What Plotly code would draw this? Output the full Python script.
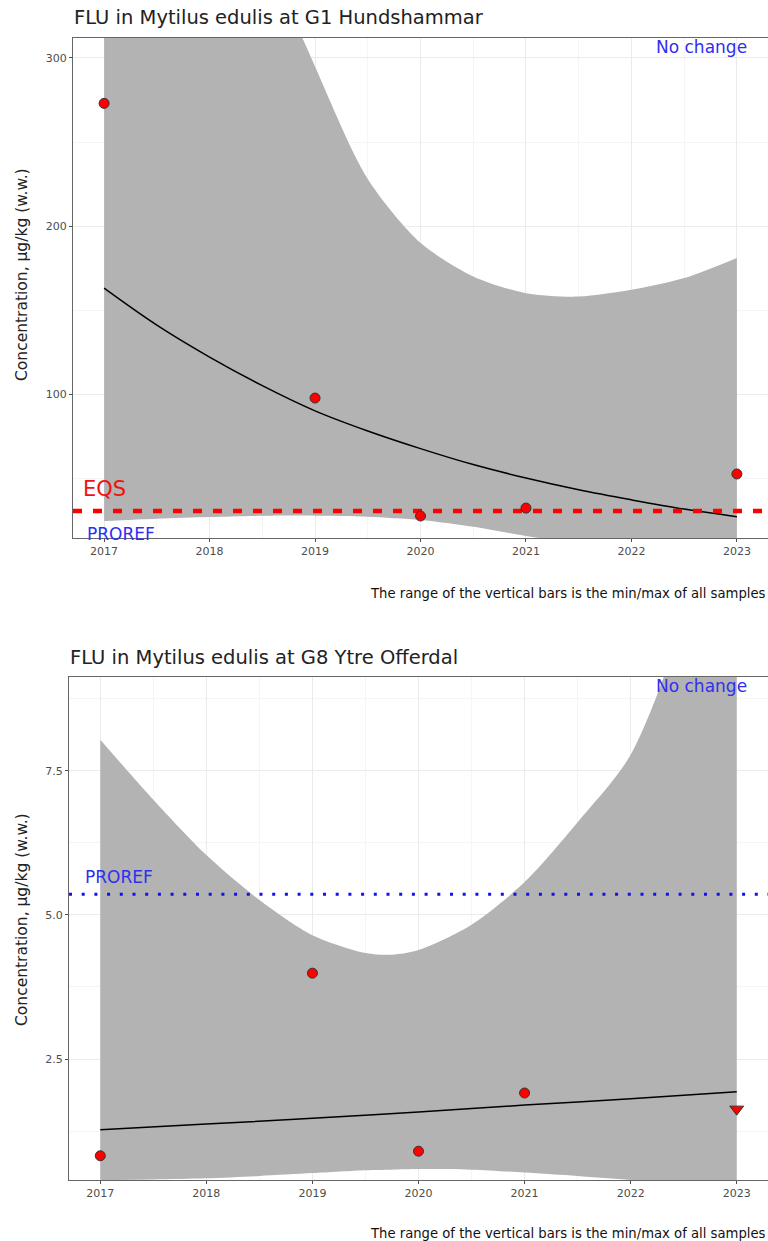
import plotly.graph_objects as go

W, H = 768, 1241

# ---------------- data: panel 1 (G1 Hundshammar) ----------------
p1_years = [2017, 2019, 2020, 2021, 2023]
p1_values = [273, 97.6, 27.4, 32.1, 52.4]
p1_trend_x = [2017, 2017.5, 2018, 2018.5, 2019, 2019.5, 2020, 2020.5, 2021, 2021.5, 2022, 2022.5, 2023]
p1_trend_y = [163, 141, 122, 105, 90, 78, 67.5, 58, 50, 43, 37, 31.5, 27]
p1_upper = [900, 650, 480, 370, 295, 228, 190, 170, 160, 158, 162, 169, 181]
p1_lower = [24.4, 25.8, 26.8, 27.5, 27.6, 27.0, 25.0, 21.0, 15.5, 11.0, 8.0, 5.5, 4.0]
p1_eqs = 30.4
p1_yrange = [14.3, 311.9]
p1_yticks = [100, 200, 300]
p1_title = "FLU in Mytilus edulis at G1 Hundshammar"

# ---------------- data: panel 2 (G8 Ytre Offerdal) ----------------
p2_years = [2017, 2019, 2020, 2021]
p2_values = [0.82, 3.99, 0.90, 1.91]
p2_lt_years = [2023]
p2_lt_values = [1.63]
p2_trend_x = [2017, 2018, 2019, 2020, 2021, 2022, 2023]
p2_trend_y = [1.27, 1.37, 1.47, 1.58, 1.70, 1.81, 1.93]
p2_band_x = [2017, 2017.5, 2018, 2018.5, 2019, 2019.5, 2019.75, 2020, 2020.5, 2021, 2021.5, 2022, 2022.5, 2023]
p2_upper = [8.04, 7.0, 6.04, 5.26, 4.65, 4.34, 4.31, 4.39, 4.83, 5.57, 6.61, 7.78, 10.2, 15.0]
p2_lower = [0.40, 0.41, 0.43, 0.47, 0.52, 0.57, 0.58, 0.59, 0.58, 0.53, 0.47, 0.40, 0.33, 0.25]
p2_proref = 5.36
p2_yrange = [0.40, 9.13]
p2_yticks = [2.5, 5.0, 7.5]
p2_yticklabels = ["2.5", "5.0", "7.5"]
p2_title = "FLU in Mytilus edulis at G8 Ytre Offerdal"

x_ticks = [2017, 2018, 2019, 2020, 2021, 2022, 2023]
x_range = [2016.705, 2023.295]
y_title = "Concentration, µg/kg (w.w.)"
caption = "The range of the vertical bars is the min/max of all samples"

FONT = "DejaVu Sans"
BAND = "#b3b3b3"
GRID = "#ebebeb"
MINOR = "#f5f5f5"
BLUE = "#2f2fee"


def py(pix):
    return 1 - pix / H


fig = go.Figure()


def add_band(x, lo, hi, xa, ya):
    fig.add_trace(go.Scatter(x=x, y=lo, mode="lines", line=dict(width=0, shape="spline", smoothing=0.8),
                             hoverinfo="skip", showlegend=False, xaxis=xa, yaxis=ya))
    fig.add_trace(go.Scatter(x=x, y=hi, mode="lines", line=dict(width=0, shape="spline", smoothing=0.8),
                             fill="tonexty", fillcolor=BAND,
                             hoverinfo="skip", showlegend=False, xaxis=xa, yaxis=ya))


# panel 1
add_band(p1_trend_x, p1_lower, p1_upper, "x", "y")
fig.add_trace(go.Scatter(x=p1_trend_x, y=p1_trend_y, mode="lines",
                         line=dict(color="black", width=1.5, shape="spline"),
                         showlegend=False, xaxis="x", yaxis="y"))
fig.add_trace(go.Scatter(x=[x_range[0], x_range[1]], y=[p1_eqs, p1_eqs], mode="lines",
                         line=dict(color="red", width=4.5, dash="9px,11px"),
                         showlegend=False, xaxis="x", yaxis="y"))
fig.add_trace(go.Scatter(x=p1_years, y=p1_values, mode="markers",
                         marker=dict(color="red", size=10, line=dict(color="#333333", width=1)),
                         showlegend=False, xaxis="x", yaxis="y"))

# panel 2
add_band(p2_band_x, p2_lower, p2_upper, "x2", "y2")
fig.add_trace(go.Scatter(x=p2_trend_x, y=p2_trend_y, mode="lines",
                         line=dict(color="black", width=1.5, shape="spline"),
                         showlegend=False, xaxis="x2", yaxis="y2"))
fig.add_trace(go.Scatter(x=[x_range[0], x_range[1]], y=[p2_proref, p2_proref], mode="lines",
                         line=dict(color="#1010f0", width=3, dash="3px,9.7px"),
                         showlegend=False, xaxis="x2", yaxis="y2"))
fig.add_trace(go.Scatter(x=p2_years, y=p2_values, mode="markers",
                         marker=dict(color="red", size=10, line=dict(color="#333333", width=1)),
                         showlegend=False, xaxis="x2", yaxis="y2"))
fig.add_trace(go.Scatter(x=p2_lt_years, y=p2_lt_values, mode="markers",
                         marker=dict(color="red", size=12, symbol="triangle-down",
                                     line=dict(color="#333333", width=1)),
                         showlegend=False, xaxis="x2", yaxis="y2"))

axis_common = dict(showgrid=True, gridcolor=GRID, gridwidth=1, zeroline=False,
                   showline=True, linecolor="#666666", linewidth=1, mirror=True,
                   ticks="outside", ticklen=3, tickcolor="#4d4d4d",
                   tickfont=dict(family=FONT, size=11, color="#4d4d4d"))

fig.update_layout(
    width=W, height=H, margin=dict(l=0, r=0, t=0, b=0),
    paper_bgcolor="white", plot_bgcolor="white",
    xaxis=dict(domain=[73 / W, 1], range=x_range, anchor="y", tickvals=x_ticks,
               minor=dict(showgrid=True, gridcolor=MINOR, dtick=0.5, tick0=2016.5), **axis_common),
    yaxis=dict(domain=[py(538), py(38)], range=p1_yrange, anchor="x", tickvals=p1_yticks,
               minor=dict(showgrid=True, gridcolor=MINOR, dtick=50, tick0=0), **axis_common),
    xaxis2=dict(domain=[69 / W, 1], range=x_range, anchor="y2", tickvals=x_ticks,
                minor=dict(showgrid=True, gridcolor=MINOR, dtick=0.5, tick0=2016.5), **axis_common),
    yaxis2=dict(domain=[py(1180), py(677)], range=p2_yrange, anchor="x2", tickvals=p2_yticks,
                ticktext=p2_yticklabels,
                minor=dict(showgrid=True, gridcolor=MINOR, dtick=1.25, tick0=0), **axis_common),
)

ann = []
# titles
ann.append(dict(text=p1_title, x=72 / W, y=py(18), xref="paper", yref="paper", xanchor="left",
                yanchor="middle", showarrow=False, font=dict(family=FONT, size=19.5, color="#222222")))
ann.append(dict(text=p2_title, x=68 / W, y=py(657), xref="paper", yref="paper", xanchor="left",
                yanchor="middle", showarrow=False, font=dict(family=FONT, size=19.5, color="#222222")))
# y titles
for yc in (275, 920):
    ann.append(dict(text=y_title, x=22 / W, y=py(yc), xref="paper", yref="paper", textangle=-90,
                    xanchor="center", yanchor="middle", showarrow=False,
                    font=dict(family=FONT, size=15.5, color="#222222")))
# captions
for yc in (593, 1233):
    ann.append(dict(text=caption, x=1, y=py(yc), xref="paper", yref="paper", xanchor="right",
                    yanchor="middle", showarrow=False, font=dict(family=FONT, size=13.2, color="#111111")))
# No change labels
for yc in (47, 686):
    ann.append(dict(text="No change", x=749 / W, y=py(yc), xref="paper", yref="paper", xanchor="right",
                    yanchor="middle", showarrow=False, font=dict(family=FONT, size=17, color=BLUE)))
# EQS label
ann.append(dict(text="EQS", x=81 / W, y=py(489), xref="paper", yref="paper", xanchor="left",
                yanchor="middle", showarrow=False, font=dict(family=FONT, size=21, color="#f01010")))
# PROREF labels
ann.append(dict(text="PROREF", x=85 / W, y=py(534), xref="paper", yref="paper", xanchor="left",
                yanchor="middle", showarrow=False, font=dict(family=FONT, size=17, color=BLUE)))
ann.append(dict(text="PROREF", x=83 / W, y=py(877), xref="paper", yref="paper", xanchor="left",
                yanchor="middle", showarrow=False, font=dict(family=FONT, size=17, color=BLUE)))

fig.update_layout(annotations=ann)
fig.write_html("out.html")
